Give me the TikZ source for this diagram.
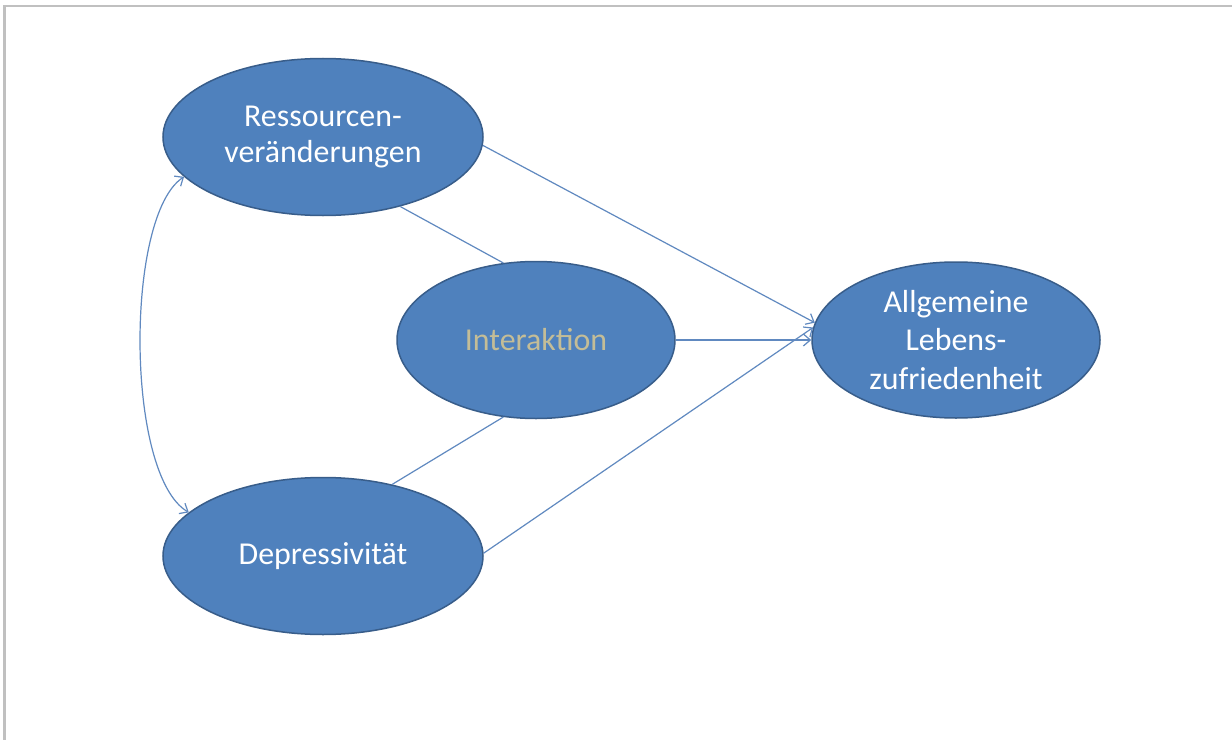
\documentclass[tikz,border=0pt]{standalone}
\usepackage{fontspec}
\setmainfont{Carlito}
\usetikzlibrary{shapes.geometric,arrows.meta}
\definecolor{shapefill}{HTML}{4F81BD}
\definecolor{shapeline}{HTML}{385D8A}
\definecolor{linkcol}{HTML}{6089C0}
\definecolor{tantext}{HTML}{C4BD97}
\definecolor{framegray}{HTML}{C0C0C0}
\tikzset{
  bubble/.style={ellipse, fill=shapefill, draw=shapeline, line width=1.5bp,
    inner sep=0pt, align=center, text=white,
    font=\fontsize{32}{37}\selectfont},
  link/.style={draw=linkcol, line width=1.2bp},
  arrowlink/.style={link, -{Straight Barb[length=7bp,width=12bp]}},
  twoway/.style={link, {Straight Barb[length=7bp,width=12bp]}-{Straight Barb[length=7bp,width=12bp]}},
}
\begin{document}
\begin{tikzpicture}[x=1bp,y=-1bp]
  \useasboundingbox (0,0) rectangle (1232,740);
  \fill[white] (0,0) rectangle (1232,740);
  % page frame, top and left edges
  \draw[framegray, line width=2bp] (4.5,740) -- (4.5,6.5) -- (1232,6.5);

  \node[bubble, minimum width=320bp, minimum height=157bp] (res) at (323,137)
    {Ressourcen-\\veränderungen};
  \node[bubble, minimum width=278bp, minimum height=157bp, text=tantext] (int) at (536,340)
    {Interaktion};
  \node[bubble, minimum width=320bp, minimum height=157bp] (dep) at (323,556)
    {Depressivität};
  \node[bubble, minimum width=288bp, minimum height=156bp,
        font=\fontsize{32}{39}\selectfont] (all) at (956,340)
    {Allgemeine\\Lebens-\\zufriedenheit};

  % direct effects
  \draw[arrowlink] (res.-3) -- (all.173);
  \draw[arrowlink] (int.east) -- (all.180);
  \draw[arrowlink] (dep.1) -- (all.175);
  % interaction term
  \draw[link] (res.-42) -- (int.113);
  \draw[link] (dep.46) -- (int.-113);
  % correlation of the predictors
  \draw[twoway] (res.196) .. controls (125,215) and (125,475) .. (dep.162);
\end{tikzpicture}
\end{document}
